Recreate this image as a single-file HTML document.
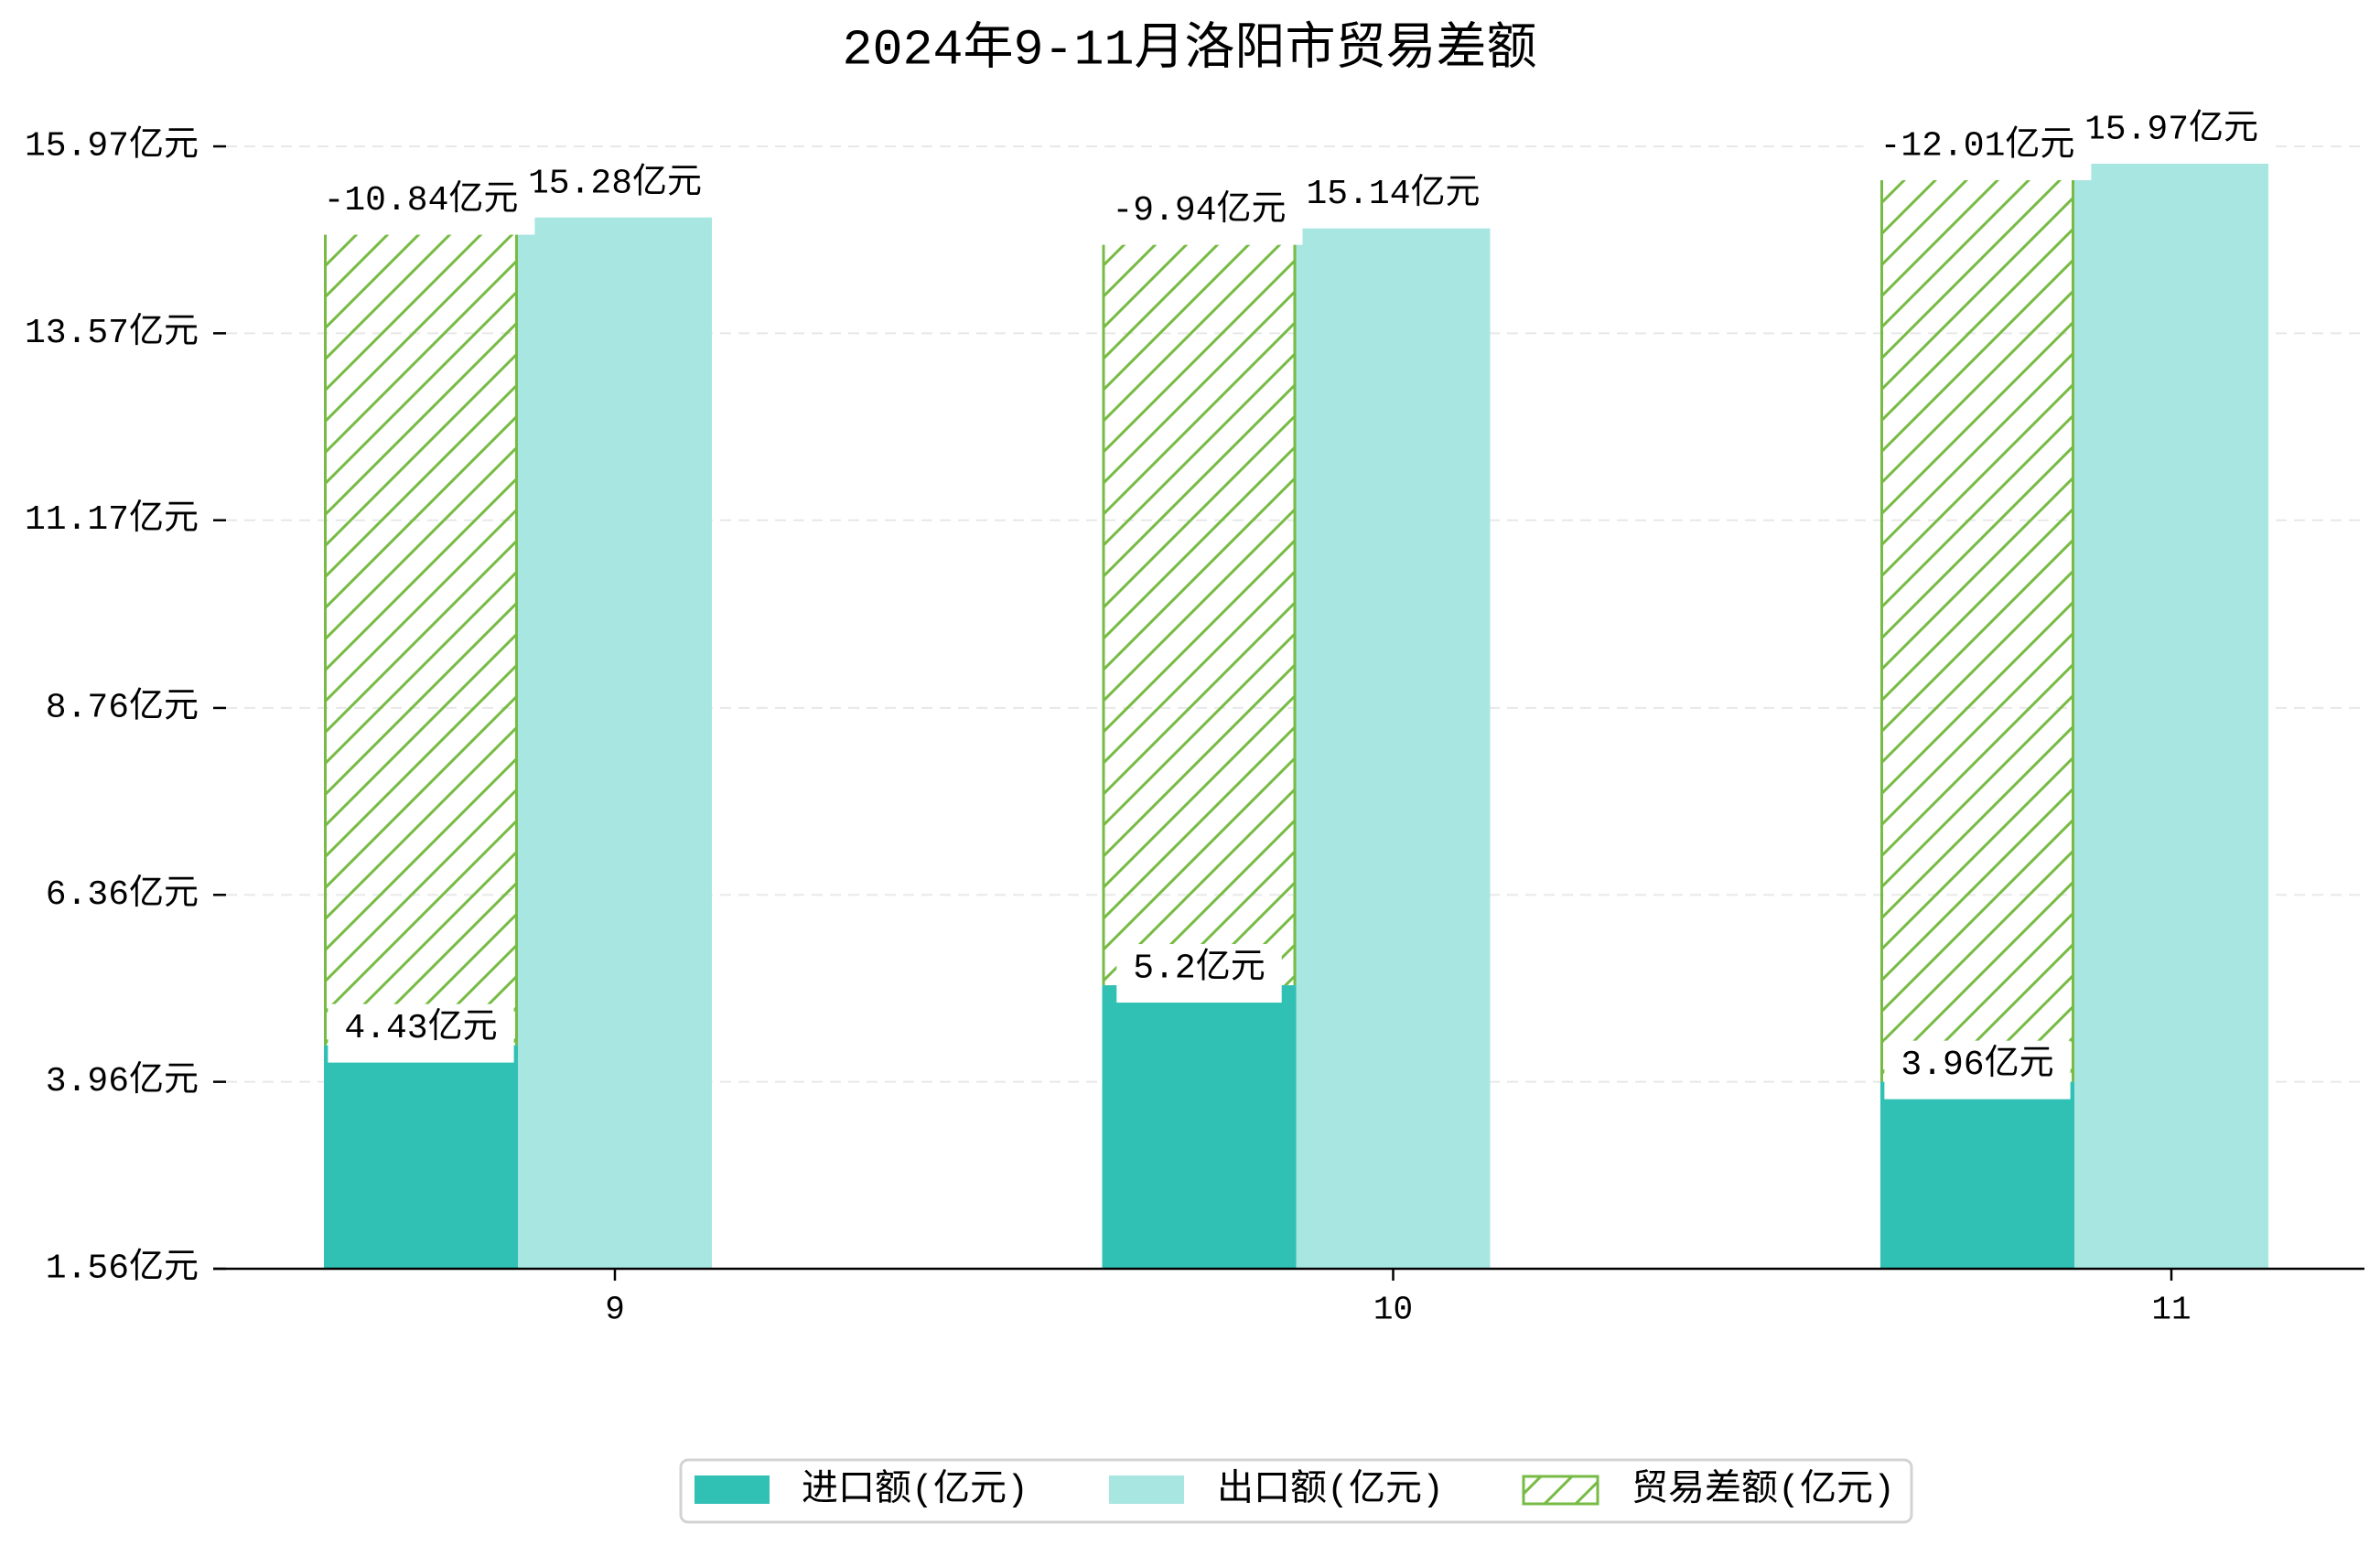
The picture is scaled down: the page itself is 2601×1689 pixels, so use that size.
<!DOCTYPE html>
<html><head><meta charset="utf-8"><style>
html,body{margin:0;padding:0;background:#fff;}
svg{display:block;font-family:"Liberation Mono","WenQuanYi Zen Hei","Noto Sans CJK SC",monospace;}
</style></head><body>
<svg id="chart" width="2601" height="1689" viewBox="0 0 2601 1689" xmlns="http://www.w3.org/2000/svg">
<defs>
<pattern id="hatch" patternUnits="userSpaceOnUse" width="34" height="34">
<path d="M-8,42 L42,-8 M-25,25 L25,-25 M9,59 L59,9" stroke="#77bb44" stroke-width="3"/>
</pattern>
</defs>
<text x="1300" y="55" font-size="55" text-anchor="middle" dominant-baseline="central" fill="#000">2024年9-11月洛阳市贸易差额</text>
<g id="grid"></g>
<g id="bars"></g>
<g id="labels"></g>
<g id="axes"></g>
<g id="legend">
<rect x="744" y="1596" width="1345" height="68" rx="8" fill="#fff" stroke="#d3d3d3" stroke-width="3"/>
<rect x="759" y="1613" width="82" height="31" fill="#30c0b4"/>
<text x="876" y="1630" font-size="40" dominant-baseline="central">进口额(亿元)</text>
<rect x="1212" y="1613" width="82" height="31" fill="#a8e6e1"/>
<text x="1330" y="1630" font-size="40" dominant-baseline="central">出口额(亿元)</text>
<rect x="1665" y="1614" width="81" height="30" fill="url(#hatch)" stroke="#77bb44" stroke-width="3"/>
<text x="1783" y="1630" font-size="40" dominant-baseline="central">贸易差额(亿元)</text>
</g>
</svg>
<script>
const categories = ["9", "10", "11"];
const importValues = [4.43, 5.2, 3.96];
const exportValues = [15.28, 15.14, 15.97];
const balanceValues = [-10.84, -9.94, -12.01];
const yTickLabels = ["1.56亿元", "3.96亿元", "6.36亿元", "8.76亿元", "11.17亿元", "13.57亿元", "15.97亿元"];
const yTickValues = [1.56, 3.96, 6.36, 8.76, 11.17, 13.57, 15.97];

const NS = "http://www.w3.org/2000/svg";
const yMin = 1.56, yMax = 15.97, yBottom = 1387, yTop = 160;
const xLeft = 233, xRight = 2584;
const x0 = 672, step = 850.5, bw = 212;
function yScale(v){ return yBottom - (v - yMin) / (yMax - yMin) * (yBottom - yTop); }
function xScale(i){ return x0 + i * step; }
function mk(tag, attrs, parent){
  const e = document.createElementNS(NS, tag);
  for (const k in attrs) e.setAttribute(k, attrs[k]);
  parent.appendChild(e);
  return e;
}
const grid = document.getElementById('grid');
const bars = document.getElementById('bars');
const labels = document.getElementById('labels');
const axes = document.getElementById('axes');

yTickValues.forEach((v, i) => {
  const y = yScale(v);
  if (i > 0) {
    const g = mk('line', {x1: 247, x2: xRight, y1: y, y2: y, stroke: '#e8e8e8', 'stroke-width': 2, 'stroke-dasharray': '12,8'}, grid);
    
    
  }
  const t = mk('line', {x1: 233, x2: 247, y1: y, y2: y, stroke: '#000', 'stroke-width': 2.5}, axes);
  
  
  const tx = mk('text', {x: 217, y: y, 'font-size': 38, 'text-anchor': 'end', 'dominant-baseline': 'central'}, axes);
  tx.textContent = yTickLabels[i];
  
  
});

const base = yScale(yMin);
function addLabel(cx, textY, str, name){
  const g = mk('g', {}, labels);
  
  
  const r = mk('rect', {fill: '#fff'}, g);
  
  
  const t = mk('text', {x: cx, y: textY, 'font-size': 38, 'text-anchor': 'middle', 'dominant-baseline': 'central'}, g);
  t.textContent = str;
  
  
  let w = 180;
  try { w = t.getComputedTextLength(); } catch(e) {}
  r.setAttribute('x', cx - w/2 - 18);
  r.setAttribute('width', w + 36);
  r.setAttribute('y', textY - 27);
  r.setAttribute('height', 64);
}

categories.forEach((c, i) => {
  const cx = xScale(i);
  const iy = yScale(importValues[i]);
  const b1 = mk('rect', {x: cx - 1.5*bw, y: iy, width: bw, height: base - iy, fill: '#30c0b4'}, bars);
  
  
  const topV = importValues[i] + Math.abs(balanceValues[i]);
  const hy = yScale(topV);
  const b2 = mk('rect', {x: cx - 1.5*bw, y: hy, width: bw, height: iy - hy, fill: 'url(#hatch)'}, bars);
  
  
  const sl = mk('line', {x1: cx - 1.5*bw + 1.5, x2: cx - 1.5*bw + 1.5, y1: hy, y2: iy, stroke: '#77bb44', 'stroke-width': 3}, bars);
  
  
  const sr = mk('line', {x1: cx - 0.5*bw - 1.5, x2: cx - 0.5*bw - 1.5, y1: hy, y2: iy, stroke: '#77bb44', 'stroke-width': 3}, bars);
  
  
  const ey = yScale(exportValues[i]);
  const b3 = mk('rect', {x: cx - 0.5*bw, y: ey, width: bw, height: base - ey, fill: '#a8e6e1'}, bars);
  
  

  addLabel(cx - bw, iy - 18, importValues[i] + '亿元', 'import-value-label');
  addLabel(cx, ey - 18, exportValues[i] + '亿元', 'export-value-label');
  addLabel(cx - bw, hy, balanceValues[i] + '亿元', 'balance-value-label');

  const tk = mk('line', {x1: cx, x2: cx, y1: base, y2: base + 13, stroke: '#000', 'stroke-width': 2.5}, axes);
  
  
  const tl = mk('text', {x: cx, y: 1432, 'font-size': 36, 'text-anchor': 'middle', 'dominant-baseline': 'central'}, axes);
  tl.textContent = c;
  
  
});

const ax = mk('line', {x1: xLeft, x2: xRight, y1: base, y2: base, stroke: '#000', 'stroke-width': 2.5}, axes);


</script>
</body></html>
